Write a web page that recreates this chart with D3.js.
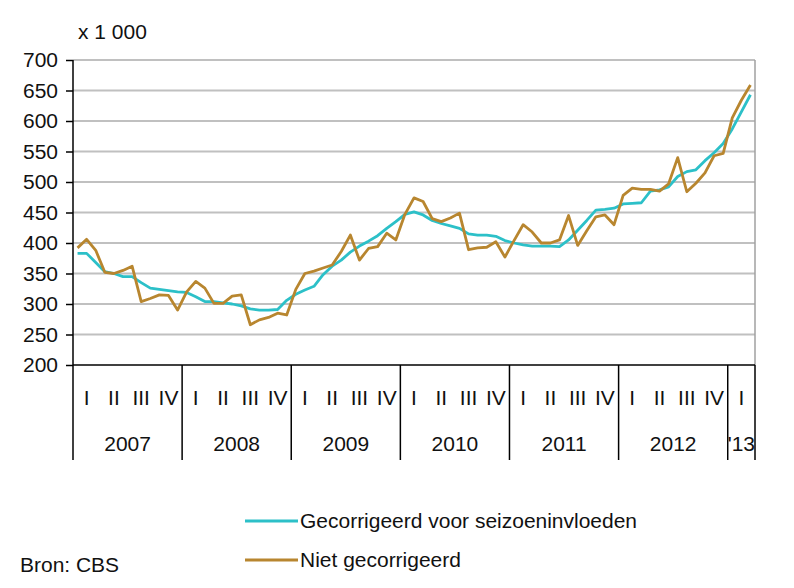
<!DOCTYPE html>
<html><head><meta charset="utf-8">
<script src="https://cdn.jsdelivr.net/npm/d3@7"></script>
<style>
html,body{margin:0;padding:0;background:#fff;}
svg{display:block;font-family:"Liberation Sans",Arial,sans-serif;}
</style></head>
<body>
<svg id="c" width="794" height="588"></svg>
<script>
// Monthly data, Jan 2007 – Mar 2013 (x 1 000)
const years = ["2007","2008","2009","2010","2011","2012","'13"];
const yearMonths = [12,12,12,12,12,12,3];
const quarterLabels = ["I","II","III","IV"];
const yTicks = [200,250,300,350,400,450,500,550,600,650,700];
const seriesNames = ["Gecorrigeerd voor seizoeninvloeden","Niet gecorrigeerd"];
const gecorrigeerd = [
 383,383,368,353,350,345,345,335,326,324,322,320,
 319,312,304,304,302,300,297,292,290,290,291,306,
 316,323,329,348,362,372,385,395,403,412,424,435,
 447,451,446,437,432,428,424,415,413,413,411,404,
 400,397,395,395,395,394,405,421,437,454,455,457,
 464,465,466,485,487,492,509,517,520,535,548,563,
 587,615,643];
const nietGecorrigeerd = [
 392,406,388,352,350,355,362,304,309,315,314,290,
 320,337,326,301,301,313,315,266,274,278,285,282,
 324,350,354,359,364,386,413,372,391,394,416,405,
 447,474,468,440,435,441,449,389,392,393,402,377,
 404,430,418,400,400,405,445,396,420,443,446,430,
 478,490,488,488,485,497,540,484,498,515,543,547,
 605,634,659];

const svg = d3.select("#c");
const L=73, R=755, T=60, B=365, AXB=460;
const nMonths = gecorrigeerd.length;
const x = d3.scaleLinear().domain([0,nMonths]).range([L,R]);
const y = d3.scaleLinear().domain([200,700]).range([B,T]);
const FS = 21, SY = 0.94;

function txt(g, s, tx, ty, anchor, fs){
  g.append("text").attr("transform",`translate(${tx},${ty}) scale(1,${SY})`)
   .attr("text-anchor",anchor||"start").attr("font-size",fs||FS).attr("fill","#111").text(s);
}

// gridlines
svg.append("g").selectAll("line").data(yTicks.filter(d=>d>200)).join("line")
  .attr("x1",L).attr("x2",R).attr("y1",d=>y(d)).attr("y2",d=>y(d))
  .attr("stroke","#c0c0c0").attr("stroke-width",2);

// right border
svg.append("line").attr("x1",R).attr("x2",R).attr("y1",T).attr("y2",B)
  .attr("stroke","#a0a0a0").attr("stroke-width",1.5);

// y axis
const yAxis = d3.axisLeft(y).tickValues(yTicks).tickSize(7).tickFormat("");
const ga = svg.append("g").attr("transform",`translate(${L},0)`).call(yAxis);
ga.select(".domain").remove();
ga.selectAll(".tick line").attr("stroke","#000").attr("stroke-width",1.5);
const gl = svg.append("g");
yTicks.forEach(v=>txt(gl, String(v), 58, y(v)+7, "end"));
txt(gl, "x 1 000", 78, 39, "start");

// lines
const line = d3.line().x((d,i)=>x(i+0.5)).y(d=>y(d));
svg.append("path").datum(gecorrigeerd).attr("d",line).attr("fill","none")
  .attr("stroke","#2cc0c8").attr("stroke-width",2.8).attr("stroke-linejoin","round");
svg.append("path").datum(nietGecorrigeerd).attr("d",line).attr("fill","none")
  .attr("stroke","#b8862f").attr("stroke-width",2.8).attr("stroke-linejoin","round");

// axis frame
svg.append("line").attr("x1",L).attr("x2",L).attr("y1",T).attr("y2",AXB).attr("stroke","#000").attr("stroke-width",1.5);
svg.append("line").attr("x1",L).attr("x2",R).attr("y1",B).attr("y2",B).attr("stroke","#000").attr("stroke-width",1.5);

// category axis
let start=0;
const gc = svg.append("g");
years.forEach((yr,k)=>{
  const m = yearMonths[k];
  const x0 = x(start), x1 = x(start+m);
  gc.append("line").attr("x1",x1).attr("x2",x1).attr("y1",B).attr("y2",AXB).attr("stroke","#000").attr("stroke-width",1.5);
  const nq = Math.ceil(m/3);
  for(let q=0;q<nq;q++) txt(gc, quarterLabels[q], x(start+q*3+1.5), 405, "middle");
  txt(gc, yr, (x0+x1)/2, 451, "middle");
  start += m;
});

// legend
const lg = svg.append("g");
lg.append("line").attr("x1",245).attr("x2",298).attr("y1",521).attr("y2",521).attr("stroke","#2cc0c8").attr("stroke-width",3);
lg.append("line").attr("x1",245).attr("x2",298).attr("y1",560).attr("y2",560).attr("stroke","#b8862f").attr("stroke-width",3);
txt(lg, seriesNames[0], 300, 528, "start");
txt(lg, seriesNames[1], 300, 567, "start");
txt(lg, "Bron: CBS", 20, 572, "start");
</script>
</body></html>
